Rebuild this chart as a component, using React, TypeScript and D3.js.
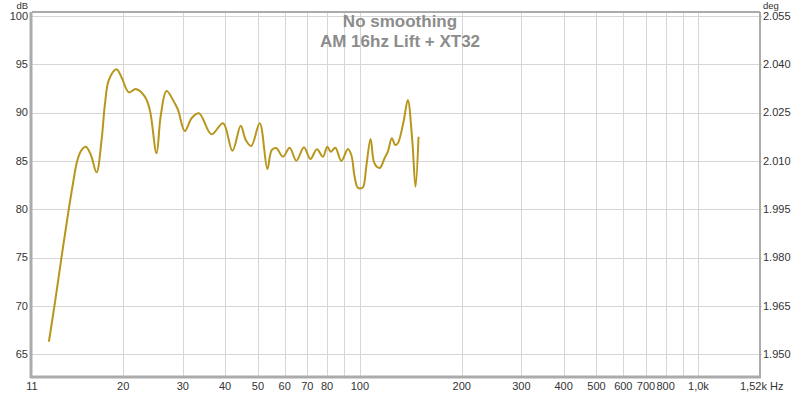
import React from "react";
import * as d3 from "d3";

const freqs = [
  12.07, 12.57, 13.16, 13.76, 14.24, 14.63, 15.05, 15.52, 16.06, 16.69,
  17.27, 17.66, 18.15, 19.12, 19.82, 20.79, 21.8, 23.18, 23.98, 25.09,
  25.84, 26.86, 28.41, 29.06, 30.41, 31.89, 33.51, 36.46, 39.45, 42.05,
  44.49, 46.03, 47.78, 50.62, 53.33, 54.92, 56.62, 59.3, 62.05, 64.95,
  68.39, 71.43, 74.7, 77.81, 80.17, 82.0, 84.66, 88.18, 92.22, 94.38,
  96.51, 98.5, 100.87, 102.46, 104.48, 107.58, 110.02, 112.43, 114.75, 118.31,
  120.99, 124.33, 127.23, 129.5, 134.61, 138.6, 142.81, 146.05, 149.06,
];
const spl = [
  66.3, 70.3, 75.1, 79.6, 82.8, 85.0, 86.1, 86.48, 85.62, 83.83,
  87.17, 90.79, 93.38, 94.48, 93.58, 92.1, 92.44, 91.65, 90.27, 85.79,
  89.76, 92.24, 90.97, 90.27, 88.1, 89.45, 89.93, 87.76, 88.9, 86.06,
  88.65, 87.17, 86.55, 88.9, 84.17, 86.13, 86.34, 85.44, 86.37, 85.03,
  86.41, 85.2, 86.21, 85.44, 86.48, 85.96, 86.37, 85.0, 86.24, 85.62,
  83.37, 82.26, 82.17, 82.36, 84.41, 87.27, 84.92, 84.38, 84.3, 85.28,
  85.96, 87.35, 86.65, 86.83, 89.06, 91.31, 87.17, 82.34, 87.51,
];

const dbTicks = [65, 70, 75, 80, 85, 90, 95, 100];
const degTicks = ["1.950", "1.965", "1.980", "1.995", "2.010", "2.025", "2.040", "2.055"];
const freqGrid = [20, 30, 40, 50, 60, 70, 80, 90, 100, 200, 300, 400, 500, 600, 700, 800, 900, 1000];
const freqLabels = [20, 30, 40, 50, 60, 70, 80, 100, 200, 300, 400, 500, 600, 700, 800, 1000];
const freqStart = 10.76;
const freqEnd = 1520;
const startLabel = "11";
const endLabel = "1,52k Hz";
const titleLines = ["No smoothing", "AM 16hz Lift + XT32"];

const W = 800;
const H = 394;
const L = 32;
const R = 760;
const T = 12;
const B = 377;
const FONT = "'Liberation Sans', Arial, sans-serif";

export default function App() {
  const x = d3.scaleLog().domain([freqStart, freqEnd]).range([L, R]);
  const y = d3.scaleLinear().domain([65, 95]).range([354.3, 64.3]);
  const line = d3
    .line<number>()
    .x((_, i) => x(freqs[i]))
    .y((d) => y(d))
    .curve(d3.curveCatmullRom.alpha(0.5));
  const fmt = (f: number) => (f >= 1000 ? (f / 1000).toFixed(1).replace(".", ",") + "k" : String(f));
  const grid = "#d6d6d6";
  const border = "#ababab";
  const textCol = "#333";

  return (
    <div style={{ position: "fixed", left: 0, top: 0, width: W, height: H, background: "#fff" }}>
      <svg width={W} height={H} style={{ display: "block" }} fontFamily={FONT}>
        <rect x={0} y={0} width={W} height={H} fill="#fff" />
        {dbTicks.map((t) => (
          <line key={"h" + t} x1={L} x2={R + 2} y1={Math.round(y(t)) + 0.5} y2={Math.round(y(t)) + 0.5} stroke={grid} />
        ))}
        {freqGrid.map((f) => (
          <line key={"v" + f} x1={Math.round(x(f)) + 0.5} x2={Math.round(x(f)) + 0.5} y1={T} y2={B} stroke={grid} />
        ))}
        <line x1={L} x2={R} y1={T} y2={T} stroke={border} strokeWidth={2} />
        <line x1={L - 1} x2={L - 1} y1={T} y2={B + 1} stroke={border} strokeWidth={3} />
        <line x1={L - 2} x2={R + 1} y1={B} y2={B} stroke={border} strokeWidth={3} />
        <line x1={R} x2={R} y1={T} y2={B} stroke={border} strokeWidth={2} />

        <path d={line(spl) || ""} fill="none" stroke="#b8961c" strokeWidth={2} strokeLinejoin="round" />

        {dbTicks.map((t) => (
          <text key={"l" + t} x={28} y={y(t)} dy="0.35em" textAnchor="end" fontSize={11} fill={textCol}>
            {t}
          </text>
        ))}
        {dbTicks.map((t, i) => (
          <text key={"r" + t} x={763} y={y(t)} dy="0.35em" textAnchor="start" fontSize={11} fill={textCol}>
            {degTicks[i]}
          </text>
        ))}
        <text x={28} y={8.5} textAnchor="end" fontSize={9.5} fill={textCol}>dB</text>
        <text x={763} y={8.5} textAnchor="start" fontSize={9.5} fill={textCol}>deg</text>

        {freqLabels.map((f) => (
          <text key={"x" + f} x={x(f)} y={390} textAnchor="middle" fontSize={11} fill={textCol}>
            {fmt(f)}
          </text>
        ))}
        <text x={L} y={390} textAnchor="middle" fontSize={11} fill={textCol}>{startLabel}</text>
        <text x={740} y={390} textAnchor="start" fontSize={11} fill={textCol}>{endLabel}</text>

        {titleLines.map((s, i) => (
          <text key={s} x={400} y={27 + i * 19.5} textAnchor="middle" fontSize={17} fontWeight="bold" fill="#8c8c8c">
            {s}
          </text>
        ))}
      </svg>
    </div>
  );
}
